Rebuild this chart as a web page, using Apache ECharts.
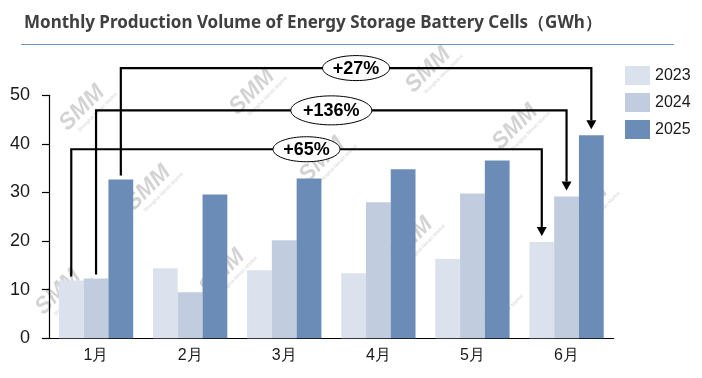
<!DOCTYPE html>
<html>
<head>
<meta charset="utf-8">
<style>
html,body{margin:0;padding:0;background:#fff;}
#chart{width:702px;height:378px;}
</style>
<script src="https://cdn.jsdelivr.net/npm/echarts@6/dist/echarts.min.js"></script>
</head>
<body>
<div id="chart"></div>
<script>
// ---- data ----
const titleText = 'Monthly Production Volume of Energy Storage Battery Cells（GWh）';
const months = ['1月', '2月', '3月', '4月', '5月', '6月'];
const years = ['2023', '2024', '2025'];
const values2023 = [11.9, 14.4, 14.0, 13.4, 16.3, 19.8];
const values2024 = [12.3, 9.5, 20.2, 28.0, 29.8, 29.2];
const values2025 = [32.7, 29.6, 32.9, 34.8, 36.6, 41.8];
const growthLabels = ['+65%', '+136%', '+27%'];
const yMin = 0, yMax = 50, yStep = 10;

// ---- layout / style ----
const seriesValues = [values2023, values2024, values2025];
const colors = ['#DCE2ED', '#C2CCDF', '#6C8CB8'];
const CAT_GAP = 0.21;
const ANNOT_LEVEL = [38.9, 46.9, 55.6]; // line heights of annotation brackets (axis units)
const FONT = '"Liberation Sans", Arial, sans-serif';

const chart = echarts.init(document.getElementById('chart'), null, {renderer: 'canvas'});

function annotation(params, api) {
  const k = api.value(1);
  const vals = seriesValues[k];
  const band = api.size([1, 0])[0];
  const barW = band * (1 - CAT_GAP) / 3;
  const off = (k - 1) * barW;
  const first = 0, last = months.length - 1;
  const x1 = api.coord([first, 0])[0] + off;
  const x2 = api.coord([last, 0])[0] + off;
  const yS = api.coord([first, vals[first]])[1] - 4;
  const yL = api.coord([first, ANNOT_LEVEL[k]])[1];
  const yTip = api.coord([last, vals[last]])[1] - 6;
  const ah = 9, aw = 5;
  const mx = (x1 + x2) / 2;
  const label = growthLabels[k];
  const rx = label.length > 4 ? 40.5 : 33.5;
  const ry = label.length > 4 ? 14.5 : 12.5;
  return {
    type: 'group',
    children: [
      {type: 'polyline', shape: {points: [[x1, yS], [x1, yL], [x2, yL], [x2, yTip - ah]]},
       style: {stroke: '#000', lineWidth: 2.2, fill: null}},
      {type: 'polygon', shape: {points: [[x2 - aw, yTip - ah], [x2 + aw, yTip - ah], [x2, yTip]]},
       style: {fill: '#000'}},
      {type: 'ellipse', shape: {cx: mx, cy: yL, rx: rx, ry: ry},
       style: {fill: '#fff', stroke: '#000', lineWidth: 1}},
      {type: 'text', style: {text: label, x: mx, y: yL + 1, align: 'center', verticalAlign: 'middle',
        textAlign: 'center', textVerticalAlign: 'middle',
        font: 'bold 18px ' + FONT, fill: '#000'}}
    ]
  };
}

// watermark decoration
const wmSpots = [[82,108],[252,92],[428,70],[148,188],[222,272],[322,160],[58,292],[515,127],[410,240],[488,310],[585,207]];
const watermarks = wmSpots.map(p => ({
  type: 'group', x: p[0], y: p[1], rotation: Math.PI / 4, z: 0, silent: true,
  children: [
    {type: 'text', style: {text: 'SMM', x: 0, y: 0, align: 'center', verticalAlign: 'middle',
      font: 'bold italic 23px ' + FONT, fill: 'rgba(150,150,150,0.42)'}},
    {type: 'text', style: {text: 'Shanghai Metals Market', x: 8, y: 14, align: 'center', verticalAlign: 'middle',
      font: '5px ' + FONT, fill: 'rgba(150,150,150,0.4)'}}
  ]
}));

const option = {
  animation: false,
  backgroundColor: '#fff',
  title: {
    text: titleText, left: 19, top: 10,
    textStyle: {fontFamily: '"Noto Sans", sans-serif', fontWeight: 'bold', fontSize: 17, color: '#404040'}
  },
  graphic: [
    {type: 'line', shape: {x1: 21, y1: 44.5, x2: 674, y2: 44.5}, style: {stroke: '#6E98B8', lineWidth: 1.2}, z: 5}
  ].concat(watermarks),
  legend: {
    data: years, orient: 'vertical', left: 620, top: 61,
    itemWidth: 25, itemHeight: 19, itemGap: 8, icon: 'rect',
    textStyle: {fontFamily: FONT, fontSize: 16, color: '#1a1a1a'}
  },
  grid: {left: 49, top: 95.3, right: 88.4, bottom: 39.7, containLabel: false},
  xAxis: {
    type: 'category', data: months,
    axisLine: {lineStyle: {color: '#000', width: 1.2}},
    axisTick: {show: false},
    axisLabel: {fontFamily: FONT, fontSize: 16, color: '#1a1a1a', margin: 9}
  },
  yAxis: {
    type: 'value', min: yMin, max: yMax, interval: yStep,
    axisLine: {show: true, lineStyle: {color: '#000', width: 1.2}},
    axisTick: {show: true, length: 7, lineStyle: {color: '#000', width: 1.2}},
    splitLine: {show: false},
    axisLabel: {fontFamily: FONT, fontSize: 18, color: '#1a1a1a', margin: 19}
  },
  series: years.map((y, i) => ({
    name: y, type: 'bar', data: seriesValues[i],
    barGap: '0%', barCategoryGap: (CAT_GAP * 100) + '%',
    itemStyle: {color: colors[i]}, z: 2
  })).concat([{
    type: 'custom', renderItem: annotation, clip: false, z: 10,
    data: [[0, 0], [0, 1], [0, 2]], encode: {x: 0},
    silent: true, tooltip: {show: false}
  }])
};
chart.setOption(option);
</script>
</body>
</html>
